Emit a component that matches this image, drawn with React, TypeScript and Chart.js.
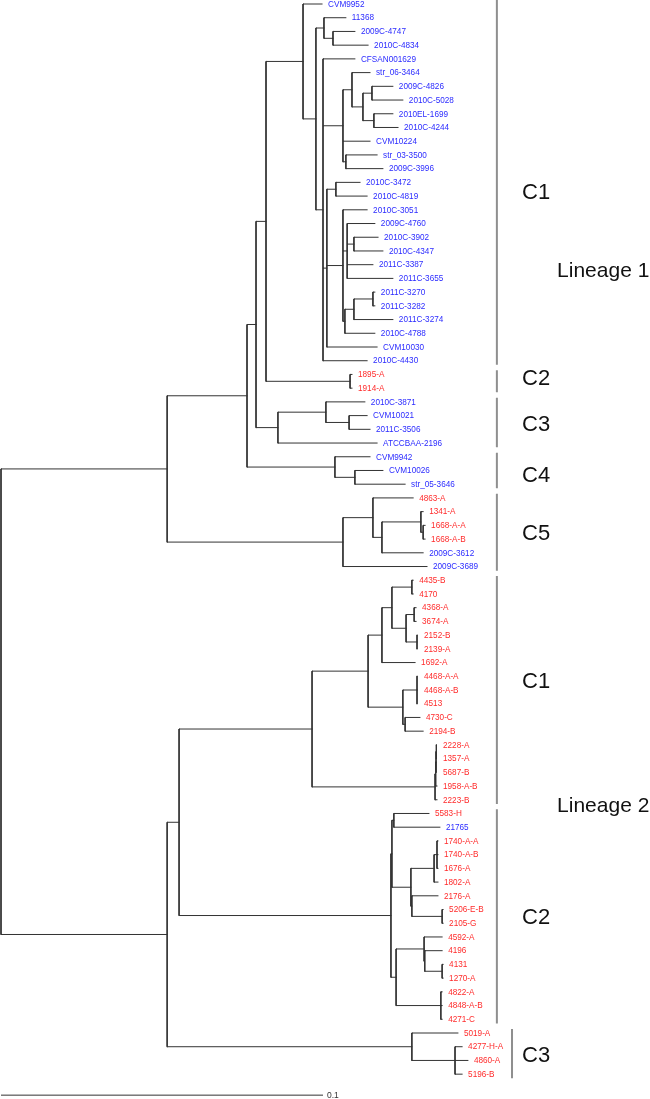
import React, { useEffect, useRef } from "react";
import { Chart, registerables } from "chart.js";

Chart.register(...registerables);

// ---------- DATA ----------
// Leaves, top to bottom
const leafNames = [
  "CVM9952", "11368", "2009C-4747", "2010C-4834", "CFSAN001629", "str_06-3464",
  "2009C-4826", "2010C-5028", "2010EL-1699", "2010C-4244", "CVM10224", "str_03-3500",
  "2009C-3996", "2010C-3472", "2010C-4819", "2010C-3051", "2009C-4760", "2010C-3902",
  "2010C-4347", "2011C-3387", "2011C-3655", "2011C-3270", "2011C-3282", "2011C-3274",
  "2010C-4788", "CVM10030", "2010C-4430", "1895-A", "1914-A", "2010C-3871",
  "CVM10021", "2011C-3506", "ATCCBAA-2196", "CVM9942", "CVM10026", "str_05-3646",
  "4863-A", "1341-A", "1668-A-A", "1668-A-B", "2009C-3612", "2009C-3689",
  "4435-B", "4170", "4368-A", "3674-A", "2152-B", "2139-A", "1692-A",
  "4468-A-A", "4468-A-B", "4513", "4730-C", "2194-B", "2228-A", "1357-A",
  "5687-B", "1958-A-B", "2223-B", "5583-H", "21765", "1740-A-A", "1740-A-B",
  "1676-A", "1802-A", "2176-A", "5206-E-B", "2105-G", "4592-A", "4196", "4131",
  "1270-A", "4822-A", "4848-A-B", "4271-C", "5019-A", "4277-H-A", "4860-A", "5196-B",
];

// Distance from root to each tip (substitutions/site)
const tipDepth = [
  0.0997, 0.1071, 0.1099, 0.1140, 0.1099, 0.1146,
  0.1217, 0.1248, 0.1217, 0.1233, 0.1146, 0.1168,
  0.1186, 0.1115, 0.1137, 0.1137, 0.1161, 0.1171,
  0.1186, 0.1155, 0.1217, 0.1161, 0.1161, 0.1217,
  0.1161, 0.1168, 0.1137, 0.1090, 0.1090, 0.1130,
  0.1137, 0.1146, 0.1168, 0.1146, 0.1186, 0.1255,
  0.1280, 0.1311, 0.1317, 0.1317, 0.1311, 0.1323,
  0.1280, 0.1280, 0.1289, 0.1289, 0.1295, 0.1295, 0.1286,
  0.1295, 0.1295, 0.1295, 0.1301, 0.1311, 0.1354, 0.1354,
  0.1354, 0.1354, 0.1354, 0.1329, 0.1363, 0.1357, 0.1357,
  0.1357, 0.1357, 0.1357, 0.1373, 0.1373, 0.1370, 0.1370, 0.1373,
  0.1373, 0.1370, 0.1370, 0.1370, 0.1419, 0.1432, 0.1450, 0.1432,
];

// Strains printed in blue (all others red)
const blueLeaves = [
  "CVM9952", "11368", "2009C-4747", "2010C-4834", "CFSAN001629", "str_06-3464",
  "2009C-4826", "2010C-5028", "2010EL-1699", "2010C-4244", "CVM10224", "str_03-3500",
  "2009C-3996", "2010C-3472", "2010C-4819", "2010C-3051", "2009C-4760", "2010C-3902",
  "2010C-4347", "2011C-3387", "2011C-3655", "2011C-3270", "2011C-3282", "2011C-3274",
  "2010C-4788", "CVM10030", "2010C-4430", "2010C-3871", "CVM10021", "2011C-3506",
  "ATCCBAA-2196", "CVM9942", "CVM10026", "str_05-3646", "2009C-3612", "2009C-3689",
  "21765",
];

// Internal nodes: id, depth from root, children (leaf names or node ids)
const nodeIds = [
  "a4747", "a11368", "a4826", "a1699", "a4826b", "a3464", "a3500", "a10224",
  "a3472", "a3902", "a4760", "a3270", "a3274", "a4788", "a3051", "a10030",
  "a1629", "aB", "aA", "a1895", "aC12", "a10021", "a3871", "aC3", "aC123",
  "a10026", "aC4", "aC1234", "a1668", "a1341", "a3612", "a4863", "aC5", "L1",
  "b4435", "b4368", "b2152", "b406", "b392", "b382", "b4468", "b4730", "b403",
  "b368", "b2228a", "b2228b", "b2228c", "b2228", "bC1", "b5583", "b1740",
  "b1802", "b5206", "b2176", "b411", "b392b", "b4131", "b424b", "b424",
  "b4822", "b396", "bC2", "L2a", "b4277", "bC3", "L2", "root",
];

const nodeDepth = [
  0.1031, 0.1003, 0.1152, 0.1158, 0.1124, 0.1090, 0.1071, 0.1062,
  0.1040, 0.1096, 0.1075, 0.1155, 0.1096, 0.1068, 0.1062, 0.1012,
  0.1000, 0.0978, 0.0938, 0.1084, 0.0823, 0.1081, 0.1009, 0.0860, 0.0792,
  0.1099, 0.1037, 0.0764, 0.1311, 0.1304, 0.1183, 0.1155, 0.1062, 0.0516,
  0.1276, 0.1283, 0.1292, 0.1258, 0.1214, 0.1183, 0.1292, 0.1255, 0.1248,
  0.1140, 0.1352, 0.1351, 0.1350, 0.1348, 0.0966, 0.1220, 0.1354,
  0.1345, 0.1370, 0.1276, 0.1273, 0.1214, 0.1370, 0.1316, 0.1314,
  0.1366, 0.1227, 0.1211, 0.0553, 0.1410, 0.1276, 0.0516, 0.0,
];

const nodeChildren = [
  ["2009C-4747", "2010C-4834"],
  ["11368", "a4747"],
  ["2009C-4826", "2010C-5028"],
  ["2010EL-1699", "2010C-4244"],
  ["a4826", "a1699"],
  ["str_06-3464", "a4826b"],
  ["str_03-3500", "2009C-3996"],
  ["a3464", "CVM10224", "a3500"],
  ["2010C-3472", "2010C-4819"],
  ["2010C-3902", "2010C-4347"],
  ["2009C-4760", "a3902", "2011C-3387", "2011C-3655"],
  ["2011C-3270", "2011C-3282"],
  ["a3270", "2011C-3274"],
  ["a3274", "2010C-4788"],
  ["2010C-3051", "a4760", "a4788"],
  ["a3472", "a3051", "CVM10030"],
  ["CFSAN001629", "a10224", "a10030", "2010C-4430"],
  ["a11368", "a1629"],
  ["CVM9952", "aB"],
  ["1895-A", "1914-A"],
  ["aA", "a1895"],
  ["CVM10021", "2011C-3506"],
  ["2010C-3871", "a10021"],
  ["a3871", "ATCCBAA-2196"],
  ["aC12", "aC3"],
  ["CVM10026", "str_05-3646"],
  ["CVM9942", "a10026"],
  ["aC123", "aC4"],
  ["1668-A-A", "1668-A-B"],
  ["1341-A", "a1668"],
  ["a1341", "2009C-3612"],
  ["4863-A", "a3612"],
  ["a4863", "2009C-3689"],
  ["aC1234", "aC5"],
  ["4435-B", "4170"],
  ["4368-A", "3674-A"],
  ["2152-B", "2139-A"],
  ["b4368", "b2152"],
  ["b4435", "b406"],
  ["b392", "1692-A"],
  ["4468-A-A", "4468-A-B", "4513"],
  ["4730-C", "2194-B"],
  ["b4468", "b4730"],
  ["b382", "b403"],
  ["2228-A", "1357-A"],
  ["b2228a", "5687-B"],
  ["b2228b", "1958-A-B"],
  ["b2228c", "2223-B"],
  ["b368", "b2228"],
  ["5583-H", "21765"],
  ["1740-A-A", "1740-A-B", "1676-A"],
  ["b1740", "1802-A"],
  ["5206-E-B", "2105-G"],
  ["2176-A", "b5206"],
  ["b1802", "b2176"],
  ["b5583", "b411"],
  ["4131", "1270-A"],
  ["4196", "b4131"],
  ["4592-A", "b424b"],
  ["4822-A", "4848-A-B", "4271-C"],
  ["b424", "b4822"],
  ["b392b", "b396"],
  ["bC1", "bC2"],
  ["4277-H-A", "4860-A", "5196-B"],
  ["5019-A", "b4277"],
  ["L2a", "bC3"],
  ["L1", "L2"],
];

const cladeNames = ["C1", "C2", "C3", "C4", "C5", "C1", "C2", "C3"];
const cladeFirstLeaf = ["CVM9952", "1895-A", "2010C-3871", "CVM9942", "4863-A", "4435-B", "5583-H", "5019-A"];
const cladeLastLeaf = ["2010C-4430", "1914-A", "ATCCBAA-2196", "str_05-3646", "2009C-3689", "2223-B", "4271-C", "5196-B"];

const lineageNames = ["Lineage 1", "Lineage 2"];
const lineageFirstLeaf = ["CVM9952", "4435-B"];
const lineageLastLeaf = ["2009C-3689", "5196-B"];

const scaleBarLength = 0.1;

// ---------- LAYOUT CONSTANTS ----------
const W = 650;
const H = 1099;
const PX_PER_UNIT = 3220; // 0.1 subst/site ≈ 322 px
const LEAF_STEP = 13.72;
const FIRST_LEAF_PX = 4;
const BAR_X = [0.154, 0.154, 0.154, 0.154, 0.154, 0.154, 0.154, 0.1587];
const CLADE_LABEL_X = 0.1618;
const CLADE_LABEL_SHIFT = [0.8, -0.2, 0.2, 0.4, 0.1, -0.6, 0.1, 0.2];
const LINEAGE_LABEL_X = 0.1727;
const LINEAGE_LABEL_SHIFT = [-1.0, -1.55];
const BLUE = "#2b2bff";
const RED = "#ff2b2b";
const FONT = '"Liberation Sans", Arial, Helvetica, sans-serif';

function buildTreeSegments() {
  const pos = new Map<string, { x: number; y: number }>();
  leafNames.forEach((n, i) => pos.set(n, { x: tipDepth[i], y: i }));
  const segs: { x: number; y: number }[][] = [];
  const resolve = (id: string): { x: number; y: number } => {
    const known = pos.get(id);
    if (known) return known;
    const k = nodeIds.indexOf(id);
    const ch = nodeChildren[k].map(resolve);
    const y0 = ch[0].y;
    const y1 = ch[ch.length - 1].y;
    const p = { x: nodeDepth[k], y: (y0 + y1) / 2 };
    pos.set(id, p);
    segs.push([{ x: p.x, y: y0 }, { x: p.x, y: y1 }]);
    ch.forEach((c) => segs.push([{ x: p.x, y: c.y }, { x: c.x, y: c.y }]));
    return p;
  };
  resolve("root");
  return segs;
}

function flatten(segs: { x: number; y: number }[][]) {
  const out: any[] = [];
  segs.forEach((s) => {
    s.forEach((p) => out.push(p));
    out.push({ x: null, y: null });
  });
  return out;
}

export default function App() {
  const ref = useRef<HTMLCanvasElement | null>(null);

  useEffect(() => {
    if (!ref.current) return;
    const treeSegs = buildTreeSegments();
    const barSegs = cladeNames.map((_, i) => {
      const a = leafNames.indexOf(cladeFirstLeaf[i]) - 0.3;
      const b = leafNames.indexOf(cladeLastLeaf[i]) + 0.3;
      return [{ x: BAR_X[i], y: a }, { x: BAR_X[i], y: b }];
    });
    const scaleY = leafNames.length - 1 + 1.53;
    const scaleSegs = [[{ x: 0, y: scaleY }, { x: scaleBarLength, y: scaleY }]];

    const labelPlugin = {
      id: "treeLabels",
      afterDatasetsDraw(chart: any) {
        const ctx = chart.ctx;
        const xs = chart.scales.x;
        const ys = chart.scales.y;
        ctx.save();
        ctx.textBaseline = "middle";
        ctx.textAlign = "left";
        ctx.font = `8.2px ${FONT}`;
        leafNames.forEach((n, i) => {
          ctx.fillStyle = blueLeaves.includes(n) ? BLUE : RED;
          ctx.fillText(n, xs.getPixelForValue(tipDepth[i]) + 6, ys.getPixelForValue(i) + 0.5);
        });
        ctx.fillStyle = "#111";
        ctx.font = `22px ${FONT}`;
        cladeNames.forEach((c, i) => {
          const a = leafNames.indexOf(cladeFirstLeaf[i]);
          const b = leafNames.indexOf(cladeLastLeaf[i]);
          ctx.fillText(c, xs.getPixelForValue(CLADE_LABEL_X), ys.getPixelForValue((a + b) / 2 + CLADE_LABEL_SHIFT[i]));
        });
        ctx.font = `21px ${FONT}`;
        lineageNames.forEach((l, i) => {
          const a = leafNames.indexOf(lineageFirstLeaf[i]);
          const b = leafNames.indexOf(lineageLastLeaf[i]);
          ctx.fillText(l, xs.getPixelForValue(LINEAGE_LABEL_X), ys.getPixelForValue((a + b) / 2 + LINEAGE_LABEL_SHIFT[i]));
        });
        ctx.fillStyle = "#333";
        ctx.font = `8.5px ${FONT}`;
        ctx.fillText(String(scaleBarLength), xs.getPixelForValue(scaleBarLength) + 4, ys.getPixelForValue(scaleY) + 0.5);
        ctx.restore();
      },
    };

    const yMin = -FIRST_LEAF_PX / LEAF_STEP;
    const chart = new Chart(ref.current, {
      type: "scatter",
      data: {
        datasets: [
          {
            data: flatten(treeSegs),
            showLine: true,
            borderColor: "#333",
            borderWidth: 1,
            pointRadius: 0,
            spanGaps: false,
            borderCapStyle: "square",
          } as any,
          {
            data: flatten(barSegs),
            showLine: true,
            borderColor: "#8f8f8f",
            borderWidth: 2,
            pointRadius: 0,
            spanGaps: false,
          } as any,
          {
            data: flatten(scaleSegs),
            showLine: true,
            borderColor: "#333",
            borderWidth: 1,
            pointRadius: 0,
            spanGaps: false,
          } as any,
        ],
      },
      options: {
        animation: false,
        responsive: false,
        events: [],
        layout: { padding: 0 },
        plugins: { legend: { display: false }, tooltip: { enabled: false } },
        scales: {
          x: {
            type: "linear",
            display: false,
            bounds: "data",
            min: -1 / PX_PER_UNIT,
            max: (W - 1) / PX_PER_UNIT,
          },
          y: {
            type: "linear",
            display: false,
            reverse: true,
            bounds: "data",
            min: yMin,
            max: yMin + H / LEAF_STEP,
          },
        },
      },
      plugins: [labelPlugin],
    });
    return () => chart.destroy();
  }, []);

  return (
    <div style={{ position: "fixed", left: 0, top: 0, width: W, height: H, background: "#fff" }}>
      <canvas ref={ref} width={W} height={H} style={{ display: "block", width: W, height: H }} />
    </div>
  );
}
